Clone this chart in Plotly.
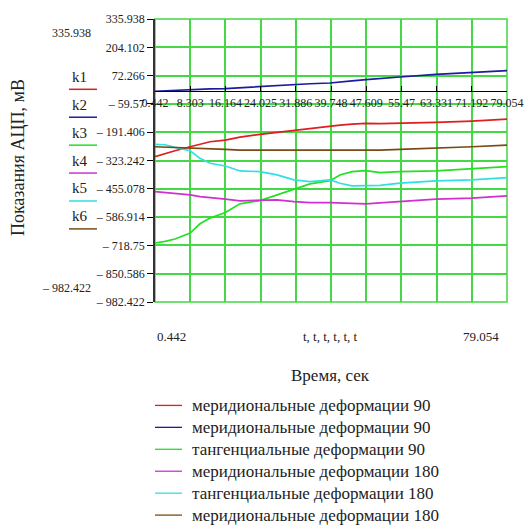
import plotly.graph_objects as go

# time axis (s)
t = [0.44, 2.68, 4.91, 8.30, 10.49, 12.73, 16.16, 19.42, 23.89, 27.69, 31.49,
     35.06, 39.52, 41.76, 44.44, 47.57, 50.69, 55.16, 63.20, 71.24, 79.05]

k1 = [-305.6, -289.8, -277.7, -259.2, -248.0, -236.0, -228.0, -214.1, -201.6, -192.3, -181.7,
      -173.8, -163.1, -158.4, -153.8, -150.5, -151.5, -150.5, -145.9, -139.9, -130.6]
k2 = [-0.6, 1.7, 4.0, 7.3, 8.7, 10.1, 11.9, 15.6, 24.0, 27.2, 31.9,
      34.2, 37.9, 43.5, 48.1, 53.7, 59.7, 65.7, 78.3, 87.6, 95.5]
k3 = [-707.6, -700.2, -689.0, -661.2, -618.0, -591.5, -565.5, -525.2, -509.8, -483.4, -460.2,
      -432.3, -417.0, -390.5, -375.2, -370.6, -379.9, -375.2, -372.0, -362.7, -352.0]
k4 = [-468.1, -471.8, -475.5, -483.4, -491.3, -497.3, -503.3, -511.2, -509.8, -506.6, -514.5,
      -519.1, -519.1, -520.5, -522.8, -525.2, -520.5, -514.5, -503.3, -498.7, -488.0]
k5 = [-248.0, -249.9, -262.0, -277.7, -313.0, -336.2, -348.8, -372.0, -375.2, -390.5, -413.7,
      -421.6, -413.7, -429.1, -441.6, -441.6, -439.3, -429.1, -418.4, -413.7, -403.1]
k6 = [-259.2, -260.6, -262.0, -263.8, -266.6, -268.4, -271.2, -274.5, -274.5, -275.9, -277.7,
      -277.7, -277.7, -274.5, -276.8, -276.8, -274.5, -271.2, -266.6, -259.2, -251.3]

series_names = ["меридиональные деформации 90", "меридиональные деформации 90",
                "тангенциальные деформации 90", "меридиональные деформации 180",
                "тангенциальные деформации 180", "меридиональные деформации 180"]
short_names = ["k1", "k2", "k3", "k4", "k5", "k6"]
colors = ["#dd1f1f", "#1c1ca0", "#22e022", "#d030d0", "#30e0e0", "#7a4a14"]

x_ticks = [0.442, 8.303, 16.164, 24.025, 31.886, 39.748, 47.609, 55.47, 63.331, 71.192, 79.054]
x_ticktext = ["0.442", "8.303", "16.164", "24.025", "31.886", "39.748", "47.609",
              "55.47", "63.331", "71.192", "79.054"]
y_ticks = [335.938, 204.102, 72.266, -59.57, -191.406, -323.242, -455.078,
           -586.914, -718.75, -850.586, -982.422]
y_ticktext = ["335.938", "204.102", "72.266", "– 59.57", "– 191.406", "– 323.242",
              "– 455.078", "– 586.914", "– 718.75", "– 850.586", "– 982.422"]

XMIN, XMAX = 0.442, 79.054
YMIN, YMAX = -982.422, 335.938
GRID = "#44d844"
SERIF = "Liberation Serif, DejaVu Serif, Times New Roman, serif"
TXT = "#222"

W, H = 528, 525
L, R, T, B = 155, 507, 18.5, 302.3
PW, PH = R - L, B - T


def px(x):
    return (x - L) / PW


def py(y):
    return (B - y) / PH


fig = go.Figure()
for ys, nm, c in zip([k1, k2, k3, k4, k5, k6], series_names, colors):
    fig.add_trace(go.Scatter(x=t, y=ys, mode="lines", name=nm,
                             line=dict(color=c, width=1.7)))

fig.update_layout(
    width=W, height=H,
    margin=dict(l=L, r=W - R, t=T, b=H - B, autoexpand=False),
    paper_bgcolor="white", plot_bgcolor="white",
    font=dict(family=SERIF, size=12, color="black"),
    showlegend=False,
    xaxis=dict(range=[XMIN, XMAX], tickvals=x_ticks, showticklabels=False,
               ticks="", showgrid=True, gridcolor=GRID, gridwidth=1.5,
               zeroline=False, showline=False),
    yaxis=dict(range=[YMIN, YMAX], tickvals=y_ticks, ticktext=y_ticktext,
               ticks="outside", ticklen=6, tickcolor="black",
               showgrid=True, gridcolor=GRID, gridwidth=1.5,
               zeroline=False, showline=True, linecolor="#333", linewidth=1.5,
               tickfont=dict(family=SERIF, size=12, color=TXT)),
    xaxis2=dict(range=[XMIN, XMAX], tickvals=x_ticks, ticktext=x_ticktext,
                overlaying="x", anchor="free",
                position=(0 - YMIN) / (YMAX - YMIN), side="bottom",
                ticks="inside", ticklen=5, tickcolor="black", tickangle=0,
                showline=True, linecolor="black", linewidth=1.2,
                showgrid=False, zeroline=False,
                tickfont=dict(family=SERIF, size=12, color=TXT)),
)

# keep xaxis2 visible with an invisible trace on it
fig.add_trace(go.Scatter(x=[XMIN, XMAX], y=[0, 0], xaxis="x2", mode="lines",
                         line=dict(color="rgba(0,0,0,0)"), showlegend=False,
                         hoverinfo="skip"))

# green frame
fig.add_shape(type="rect", xref="paper", yref="paper", x0=0, x1=1, y0=0, y1=1,
              line=dict(color=GRID, width=1.5), layer="below")

ann = []


def text(x, y, s, size=12, xanchor="center", angle=0):
    ann.append(dict(x=px(x), y=py(y), xref="paper", yref="paper", text=s,
                    xanchor=xanchor, yanchor="middle", textangle=angle,
                    showarrow=False, font=dict(family=SERIF, size=size, color=TXT)))


# y-axis title
text(18, 158, "Показания АЦП, мВ", size=18, angle=-90)
# top/bottom range labels
text(93, 33, "335.938", xanchor="right")
text(93, 288, "– 982.422", xanchor="right")
# left legend k1..k6
text_y = [77, 105, 133, 161, 188, 216]
line_y = [89, 117, 145, 173, 201, 229]
for nm, c, ty, ly in zip(short_names, colors, text_y, line_y):
    text(70, ty, nm, size=15, xanchor="left")
    fig.add_shape(type="line", xref="paper", yref="paper",
                  x0=px(69), x1=px(97), y0=py(ly), y1=py(ly),
                  line=dict(color=c, width=1.5))
# bottom labels
text(155, 337, "0.442", size=13, xanchor="left")
text(330, 337, "t, t, t, t, t, t", size=13)
text(501, 337, "79.054", size=13, xanchor="right")
text(330, 376, "Время, сек", size=17)
# bottom legend
leg_y = [406, 428, 450, 472, 494, 516]
for nm, c, ly in zip(series_names, colors, leg_y):
    text(190, ly, nm, size=17, xanchor="left")
    fig.add_shape(type="line", xref="paper", yref="paper",
                  x0=px(155), x1=px(182), y0=py(ly), y1=py(ly),
                  line=dict(color=c, width=1.3))
fig.update_layout(annotations=ann)

fig.write_html("out.html")
